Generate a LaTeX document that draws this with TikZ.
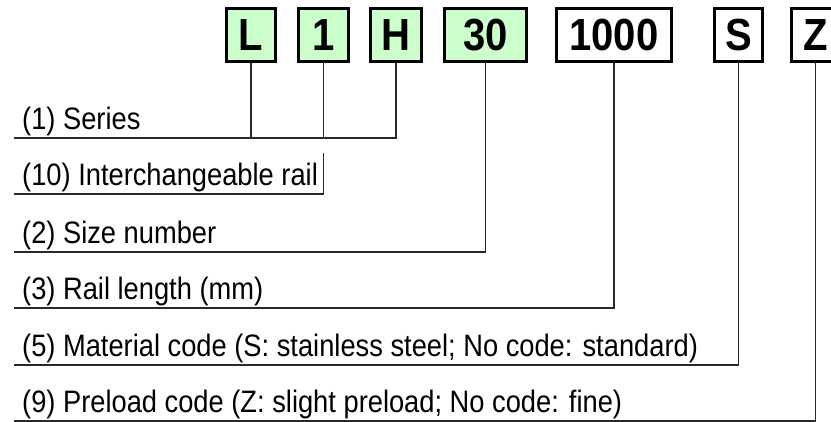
\documentclass[tikz,border=0pt]{standalone}
\usepackage{fontspec}
\setmainfont{Liberation Sans}
\newfontfamily\libfont[FakeStretch=0.88]{Liberation Sans}
\newfontfamily\casefont[FakeStretch=0.89]{Liberation Sans}
\usetikzlibrary{positioning}
\definecolor{VertClair}{RGB}{204,255,204}
\definecolor{GrisTrait}{RGB}{40,40,40}
\tikzset{case/.style={rectangle, draw=black, fill=white, line width=2.6pt,
  inner sep=0pt, minimum height=53.5pt, font=\casefont\fontsize{45}{48}\selectfont\bfseries}}
\tikzset{casev/.style={case, fill=VertClair}}
\tikzset{legende/.style={anchor=base west, inner sep=0pt, font=\libfont\fontsize{31}{34}\selectfont}}
\tikzset{trait/.style={draw=GrisTrait, line width=1.2pt}}

\begin{document}
\begin{tikzpicture}[x=1pt, y=-1pt]
\useasboundingbox (0,0) rectangle (831,422);
% cases du code
\node[casev, minimum width=49.5pt] (serie) at (251,35) {L};
\node[casev, minimum width=50.5pt] (un) at (323.5,35) {1};
\node[casev, minimum width=51.5pt] (haut) at (396,35) {H};
\node[casev, minimum width=82.5pt] (taille) at (485.5,35) {30};
\node[case, minimum width=115.5pt] (longueur) at (614,35) {1000};
\node[case, minimum width=48.5pt] (matiere) at (738.5,35) {S};
\node[case, minimum width=48.5pt] (precharge) at (815.5,35) {Z};
% libelles
\coordinate (d1) at (14,138);
\coordinate (d10) at (14,194);
\coordinate (d2) at (14,252);
\coordinate (d3) at (14,308);
\coordinate (d5) at (14,365);
\coordinate (d9) at (14,421);
\coordinate (r10) at (323.5,153);
\node[legende] (l1) at (22,130) {(1) Series};
\node[legende] (l10) at (22,186) {(10) Interchangeable rail};
\node[legende] (l2) at (22,244) {(2) Size number};
\node[legende] (l3) at (22,300) {(3) Rail length (mm)};
\node[legende] (l5) at (22,357) {(5) Material code (S: stainless steel; No code: standard)};
\node[legende] (l9) at (22,413) {(9) Preload code (Z: slight preload; No code: fine)};
% traits
\draw[trait] (haut.south) |- (d1);
\draw[trait] (serie.south) -- (serie.south |- d1);
\draw[trait] (un.south) -- (un.south |- d1);
\draw[trait] (r10) |- (d10);
\draw[trait] (taille.south) |- (d2);
\draw[trait] (longueur.south) |- (d3);
\draw[trait] (matiere.south) |- (d5);
\draw[trait] (precharge.south) |- (d9);
\end{tikzpicture}
\end{document}
